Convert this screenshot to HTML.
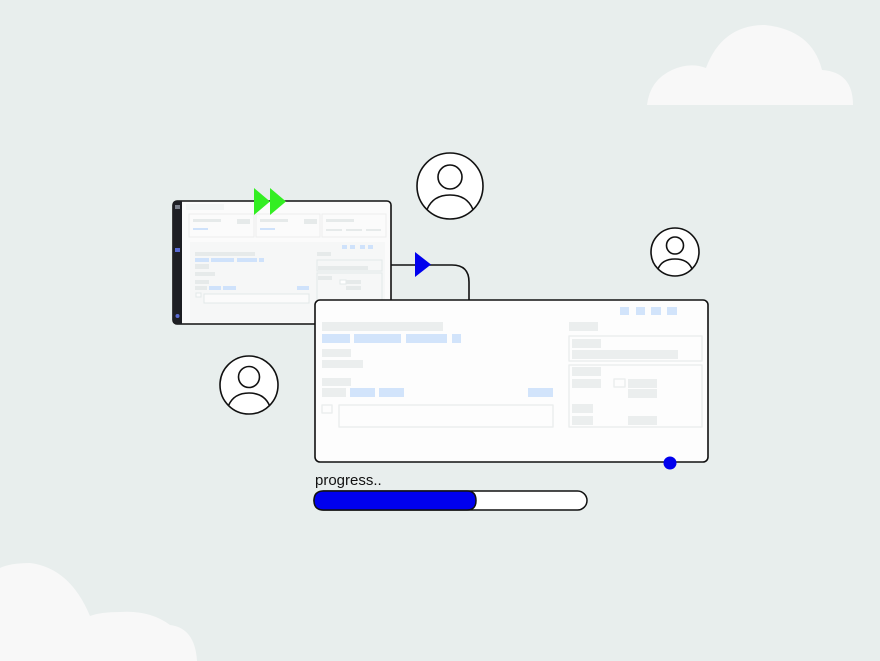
<!DOCTYPE html>
<html><head><style>html,body{margin:0;padding:0;background:#e8eeed;}svg{display:block}</style></head>
<body>
<svg width="880" height="661" viewBox="0 0 880 661" xmlns="http://www.w3.org/2000/svg">
<rect width="880" height="661" fill="#e8eeed"/>
<!-- clouds -->
<g fill="#f8f8f8">
<path d="M647,105 L853,105 Q853,72 822,70 Q812,30 765,25 Q722,25 706,68 Q690,62 672,70 Q650,80 647,105 Z"/>
<path d="M0,661 L197,661 Q195,628 170,625 Q150,610 120,612 Q100,612 90,616 Q70,568 30,563 Q10,563 0,568 Z"/>
</g>
<!-- connector -->
<path d="M391,265 L452,265 Q469,265 469,282 L469,300" fill="none" stroke="#111" stroke-width="1.6"/>
<polygon points="415,252 415,277 431,264.5" fill="#0000ee"/>
<!-- small window -->
<rect x="173" y="201" width="218" height="123" rx="4" fill="#fbfbfb" stroke="#111" stroke-width="1.6"/>
<path d="M177,201 L182,201 L182,324 L177,324 Q173,324 173,320 L173,205 Q173,201 177,201Z" fill="#1e1f24"/>
<g fill="#e6eaea">
<rect x="186" y="204" width="38" height="6" fill="#f3f5f5"/>
<rect x="189" y="214" width="65" height="23" fill="none" stroke="#eceeee"/>
<rect x="256" y="214" width="64" height="23" fill="none" stroke="#eceeee"/>
<rect x="322" y="214" width="64" height="23" fill="none" stroke="#eceeee"/>
<rect x="193" y="219" width="28" height="3"/><rect x="237" y="219" width="13" height="5"/>
<rect x="260" y="219" width="28" height="3"/><rect x="304" y="219" width="13" height="5"/>
<rect x="326" y="219" width="28" height="3"/>
<rect x="326" y="229" width="16" height="2"/><rect x="346" y="229" width="16" height="2"/><rect x="366" y="229" width="15" height="2"/>
<rect x="190" y="242" width="195" height="80" fill="#f6f7f7"/>
<rect x="195" y="252" width="60" height="4"/>
<rect x="195" y="264" width="14" height="5"/><rect x="195" y="272" width="20" height="4"/>
<rect x="195" y="280" width="14" height="4"/><rect x="195" y="286" width="12" height="4"/>
<rect x="317" y="252" width="14" height="4"/>
<rect x="317" y="260" width="65" height="11" fill="none" stroke="#e3e8e8"/>
<rect x="318" y="266" width="50" height="4"/>
<rect x="317" y="273" width="65" height="30" fill="none" stroke="#e3e8e8"/>
<rect x="318" y="276" width="14" height="4"/><rect x="340" y="280" width="6" height="4" fill="#fff" stroke="#e3e8e8"/><rect x="346" y="280" width="15" height="4"/><rect x="346" y="286" width="15" height="4"/>
<rect x="204" y="294" width="105" height="9" fill="#fbfbfb" stroke="#e3e8e8"/>
<rect x="196" y="293" width="5" height="4" fill="#fbfbfb" stroke="#e3e8e8"/>
</g>
<g fill="#cfe2fb">
<rect x="193" y="228" width="15" height="2"/><rect x="260" y="228" width="15" height="2"/>
<rect x="342" y="245" width="5" height="4"/><rect x="350" y="245" width="5" height="4"/><rect x="360" y="245" width="5" height="4"/><rect x="368" y="245" width="5" height="4"/>
<rect x="195" y="258" width="14" height="4"/><rect x="211" y="258" width="23" height="4"/><rect x="237" y="258" width="20" height="4"/><rect x="259" y="258" width="5" height="4"/>
<rect x="209" y="286" width="12" height="4"/><rect x="223" y="286" width="13" height="4"/><rect x="297" y="286" width="12" height="4"/>
</g>
<g fill="#7a7f8a"><rect x="175" y="205" width="5" height="4"/><rect x="175" y="248" width="5" height="4" fill="#5a6ad0"/><circle cx="177.5" cy="316" r="2" fill="#5a6ad0"/></g>
<!-- green arrows -->
<polygon points="254,188 254,215 270,201.5" fill="#33ee22"/>
<polygon points="270,188 270,215 286,201.5" fill="#33ee22"/>
<!-- big window -->
<rect x="315" y="300" width="393" height="162" rx="5" fill="#fdfdfd" stroke="#111" stroke-width="1.6"/>
<g fill="#ebeeee">
<rect x="322" y="322" width="121" height="9"/>
<rect x="322" y="349" width="29" height="8"/><rect x="322" y="360" width="41" height="8"/>
<rect x="322" y="378" width="29" height="8"/><rect x="322" y="388" width="24" height="9"/>
<rect x="569" y="322" width="29" height="9"/>
<rect x="572" y="339" width="29" height="9"/><rect x="572" y="350" width="106" height="9"/>
<rect x="572" y="367" width="29" height="9"/><rect x="572" y="379" width="29" height="9"/>
<rect x="628" y="379" width="29" height="9"/><rect x="628" y="389" width="29" height="9"/>
<rect x="572" y="404" width="21" height="9"/><rect x="572" y="416" width="21" height="9"/><rect x="628" y="416" width="29" height="9"/>
</g>
<g fill="none" stroke="#e8ecec" stroke-width="1.2">
<rect x="322" y="405" width="10" height="8"/><rect x="339" y="405" width="214" height="22"/>
<rect x="569" y="336" width="133" height="25"/><rect x="569" y="365" width="133" height="62"/>
<rect x="614" y="379" width="11" height="8"/>
</g>
<g fill="#d2e4fb">
<rect x="620" y="307" width="9" height="8"/><rect x="636" y="307" width="9" height="8"/><rect x="651" y="307" width="10" height="8"/><rect x="667" y="307" width="10" height="8"/>
<rect x="322" y="334" width="28" height="9"/><rect x="354" y="334" width="47" height="9"/><rect x="406" y="334" width="41" height="9"/><rect x="452" y="334" width="9" height="9"/>
<rect x="350" y="388" width="25" height="9"/><rect x="379" y="388" width="25" height="9"/><rect x="528" y="388" width="25" height="9"/>
</g>
<circle cx="670" cy="463" r="6.5" fill="#0000ee"/>
<!-- avatars -->
<g fill="#fff" stroke="#111" stroke-width="1.6">
<g><circle cx="450" cy="186" r="33"/><circle cx="450" cy="177" r="12"/><path d="M427,209.5 Q433,195 450,195 Q467,195 473,209.5" fill="none"/></g>
<g><circle cx="675" cy="252" r="24"/><circle cx="675" cy="245.5" r="8.5"/><path d="M658,269 Q662,259 675,259 Q688,259 692,269" fill="none"/></g>
<g><circle cx="249" cy="385" r="29"/><circle cx="249" cy="377" r="10.5"/><path d="M228.5,405.5 Q234,393 249,393 Q264,393 269.5,405.5" fill="none"/></g>
</g>
<!-- progress -->
<text x="315" y="485" font-family="Liberation Sans, sans-serif" font-size="15" fill="#111">progress..</text>
<rect x="314" y="491" width="273" height="19" rx="9.5" fill="#fff" stroke="#111" stroke-width="1.5"/>
<path d="M323.5,491 L467,491 Q476,491 476,500.5 Q476,510 467,510 L323.5,510 Q314,510 314,500.5 Q314,491 323.5,491Z" fill="#0000ee" stroke="#111" stroke-width="1.5"/>
</svg>
</body></html>
